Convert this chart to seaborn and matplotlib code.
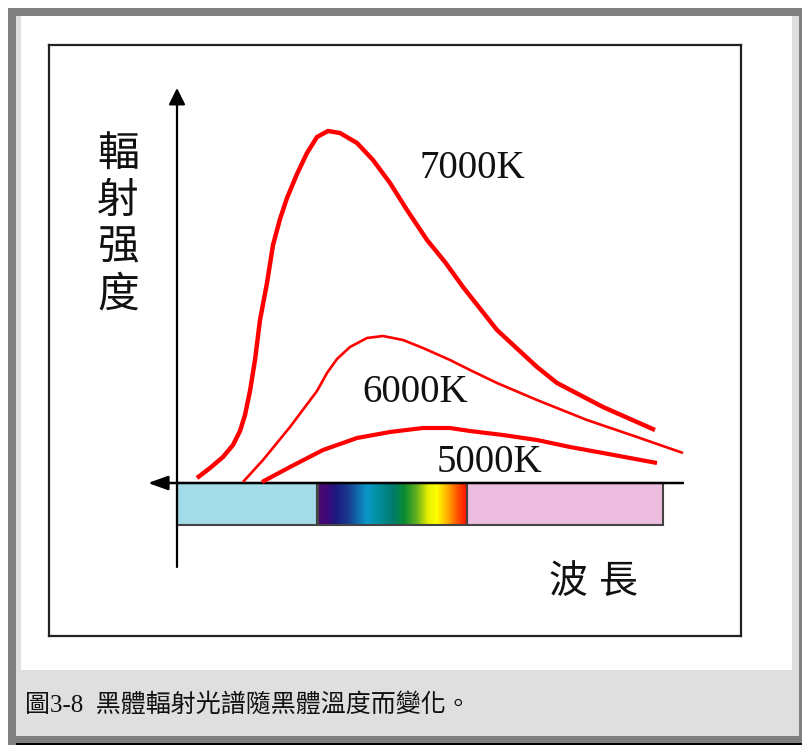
import numpy as np
import pandas as pd
import matplotlib
matplotlib.use("Agg")
import matplotlib.pyplot as plt
import seaborn as sns
from matplotlib.patches import Rectangle
from matplotlib.transforms import IdentityTransform
from matplotlib.colors import LinearSegmentedColormap

# ---------------- data (arbitrary units: wavelength, intensity) ----------------
x_7000 = [20, 33, 46, 56, 63, 68, 73, 78, 83, 90, 96, 103, 110, 120, 130, 140, 151, 163, 180, 196, 213,
          230, 250, 268, 286, 320, 360, 380, 426, 478]
y_7000 = [5, 15, 26, 38, 52, 68, 92, 123, 163, 200, 238, 264, 285, 309, 330, 346, 352, 350, 340, 323, 300,
          273, 243, 221, 196, 153, 116, 100, 76, 53]

x_6000 = [66, 86, 113, 140, 150, 160, 173, 190, 206, 226, 246, 273, 293, 320, 360, 410, 460, 506]
y_6000 = [1, 23, 56, 92, 110, 124, 136, 145, 147, 143, 135, 123, 113, 100, 83, 63, 46, 30]

x_5000 = [85, 113, 146, 180, 213, 246, 273, 293, 326, 360, 393, 426, 480]
y_5000 = [1, 16, 33, 45, 51, 55, 55, 52, 48, 43, 36, 30, 20]

curve_labels = ["7000K", "6000K", "5000K"]
label_x = [243, 185, 260]
label_y = [305, 81, 11]

band_names = ["紫外線", "可見光", "紅外線"]
band_start = [0, 141, 290]
band_end = [140, 290, 486]
band_depth = 42

y_title = "輻射强度"
x_title = ["波", "長"]
caption = "圖3-8  黑體輻射光譜隨黑體溫度而變化。"

# ---------------- style ----------------
W, H = 803, 745
sns.set_theme(style="white")
plt.rcParams['font.family'] = ['Noto Sans CJK TC', 'DejaVu Sans']

fig = plt.figure(figsize=(W / 100, H / 100), dpi=100)
fig.patch.set_facecolor("white")


def frect(x0, y0, x1, y1, color):
    fig.add_artist(Rectangle((x0, H - y1), x1 - x0, y1 - y0, transform=IdentityTransform(),
                             facecolor=color, edgecolor="none", zorder=-10))


frect(8, 8, 803, 745, "#808080")
frect(16, 16, 799, 736, "#dfdfdf")
frect(21, 16, 792, 670, "white")
frect(16, 743, 803, 745, "black")

OX, OY = 177, 483  # origin location in pixels (layout only)
ax = fig.add_axes([49 / W, 1 - 636 / H, (741 - 49) / W, (636 - 44.5) / H])
ax.set_facecolor("white")
for s in ax.spines.values():
    s.set_visible(True)
    s.set_color("#222222")
    s.set_linewidth(1.6)
ax.set_xticks([])
ax.set_yticks([])

# spectrum band
band_colors = ["#a3dbe8", None, "#ecbddf"]
for i in range(3):
    if band_colors[i] is not None:
        ax.barh(y=-band_depth / 2, width=band_end[i] - band_start[i], left=band_start[i],
                height=band_depth, color=band_colors[i], edgecolor="#444444", linewidth=1.5, zorder=2)
stops = [(0.00, "#4a0a70"), (0.06, "#40087a"), (0.12, "#1c1a80"), (0.20, "#1a3a90"),
         (0.33, "#0a9ac8"), (0.42, "#008c98"), (0.50, "#007a70"), (0.58, "#0a8a30"),
         (0.66, "#60b020"), (0.74, "#e8f000"), (0.80, "#ffff00"), (0.87, "#ffb000"),
         (0.94, "#ff5000"), (1.00, "#ff1000")]
rainbow = LinearSegmentedColormap.from_list("spec", stops)
ax.imshow(np.linspace(0, 1, 256)[None, :], cmap=rainbow, aspect="auto",
          extent=(band_start[1], band_end[1], -band_depth, 0), zorder=2, interpolation="bilinear")
ax.barh(y=-band_depth / 2, width=band_end[1] - band_start[1], left=band_start[1],
        height=band_depth, fill=False, edgecolor="#444444", linewidth=1.5, zorder=2.5)

# axes arrows
ax.annotate("", xy=(0, 395), xytext=(0, -84),
            arrowprops=dict(arrowstyle="-|>,head_length=1.0,head_width=0.5", mutation_scale=10,
                            lw=1.6, color="black", shrinkA=0, shrinkB=0), zorder=3)
ax.annotate("", xy=(-29, 0), xytext=(506, 0),
            arrowprops=dict(arrowstyle="-|>,head_length=1.2,head_width=0.43", mutation_scale=10,
                            lw=1.8, color="black", shrinkA=0, shrinkB=0), zorder=3)

# curves
df7 = pd.DataFrame({"x": x_7000, "y": y_7000})
df6 = pd.DataFrame({"x": x_6000, "y": y_6000})
df5 = pd.DataFrame({"x": x_5000, "y": y_5000})
common = dict(color="#ff0000", estimator=None, zorder=4, solid_joinstyle="round", solid_capstyle="butt")
sns.lineplot(data=df7, x="x", y="y", ax=ax, linewidth=3.2, **common)
sns.lineplot(data=df6, x="x", y="y", ax=ax, linewidth=1.9, **common)
sns.lineplot(data=df5, x="x", y="y", ax=ax, linewidth=3.0, **common)
ax.set_xlabel("")
ax.set_ylabel("")
ax.set_xlim(49 - OX, 741 - OX)
ax.set_ylim(OY - 636, OY - 44.5)

for lab, lx, ly in zip(curve_labels, label_x, label_y):
    ax.text(lx, ly, lab, fontsize=28, family=["Liberation Serif"], ha="left", va="baseline", color="#111111")

ax.text(-59, 258, "\n".join(y_title), fontsize=30, ha="center", va="center", linespacing=1.18, color="#111111")
ax.text(391, -99, x_title[0], fontsize=28, ha="center", va="center", color="#111111")
ax.text(441, -99, x_title[1], fontsize=28, ha="center", va="center", color="#111111")

fig.text(25 / W, 1 - 705 / H, caption, fontsize=18, family=["Liberation Serif", "Noto Sans CJK TC"],
         ha="left", va="center", color="#111111")

fig.savefig("out.png", dpi=100, facecolor=fig.get_facecolor())
